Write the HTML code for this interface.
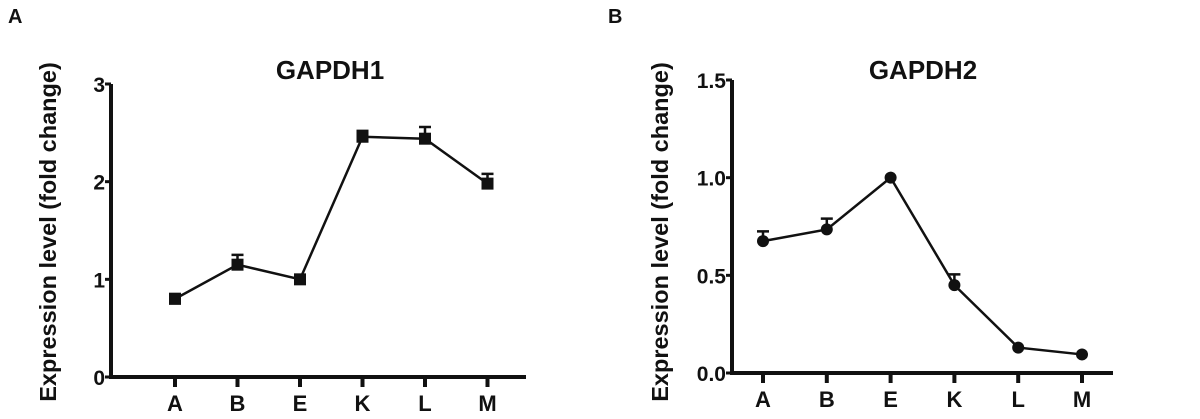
<!DOCTYPE html>
<html><head><meta charset="utf-8"><style>
body{margin:0;background:#fff;width:1200px;height:414px;overflow:hidden}
svg text{font-family:"Liberation Sans",Arial,sans-serif;font-weight:bold;fill:#111}
</style></head><body>
<svg id="chart" width="1200" height="414" xmlns="http://www.w3.org/2000/svg"></svg>
<script>
const categories=["A","B","E","K","L","M"];
const gapdh1Values=[0.80,1.15,1.00,2.46,2.44,1.98];
const gapdh1Errors=[0.05,0.10,0,0.06,0.12,0.10];
const gapdh1Ticks=["0","1","2","3"];
const gapdh2Values=[0.675,0.735,1.00,0.45,0.13,0.095];
const gapdh2Errors=[0.05,0.055,0,0.055,0,0];
const gapdh2Ticks=["0.0","0.5","1.0","1.5"];
const NS="http://www.w3.org/2000/svg";
const svg=document.getElementById('chart');
function el(t,a,p){const e=document.createElementNS(NS,t);for(const k in a)e.setAttribute(k,a[k]);(p||svg).appendChild(e);return e;}
function panel(cfg){
  const g=el('g',{});
  
  
  const y=v=>cfg.y0-(v/cfg.max)*(cfg.y0-cfg.yTop);
  const x=i=>cfg.x0+i*cfg.dx;
  const lt=el('text',{x:cfg.letterX,y:23,'font-size':20},g);lt.textContent=cfg.letter;
  
  const t=el('text',{x:cfg.titleX,y:79,'font-size':26,'text-anchor':'middle'},g);t.textContent=cfg.title;
  
  const yl=el('text',{x:0,y:0,'font-size':23.5,'text-anchor':'middle',transform:`translate(${cfg.ylabX},232) rotate(-90)`},g);
  yl.textContent="Expression level (fold change)";
  
  const ax=el('path',{d:`M${cfg.axX} ${cfg.yTop}V${cfg.y0}H${cfg.xEnd}`,stroke:'#111','stroke-width':4,fill:'none'},g);
  
  cfg.ticks.forEach((lab,i)=>{
    const v=i*cfg.max/(cfg.ticks.length-1);
    el('line',{x1:cfg.axX-6,x2:cfg.axX,y1:y(v),y2:y(v),stroke:'#111','stroke-width':3},g);
    const tt=el('text',{x:cfg.axX-6,y:y(v)+8,'font-size':21,'text-anchor':'end'},g);tt.textContent=lab;
    
  });
  categories.forEach((c,i)=>{
    el('line',{x1:x(i),x2:x(i),y1:cfg.y0,y2:cfg.y0+10,stroke:'#111','stroke-width':4},g);
    const tt=el('text',{x:x(i),y:cfg.y0+34,'font-size':22,'text-anchor':'middle'},g);tt.textContent=c;
    
  });
  const ln=el('polyline',{points:cfg.values.map((v,i)=>x(i)+','+y(v)).join(' '),fill:'none',stroke:'#111','stroke-width':2.5},g);
  
  cfg.values.forEach((v,i)=>{
    const e=cfg.errors[i];
    if(e>0){
      const eb=el('path',{d:`M${x(i)} ${y(v)}V${y(v+e)}M${x(i)-6} ${y(v+e)}H${x(i)+6}`,stroke:'#111','stroke-width':2.5,fill:'none'},g);
      
    }
    let m;
    if(cfg.square) m=el('rect',{x:x(i)-6,y:y(v)-6,width:12,height:12,fill:'#111'},g);
    else m=el('circle',{cx:x(i),cy:y(v),r:6,fill:'#111'},g);
    
  });
}
panel({name:'gapdh1-panel',letter:'A',letterX:8,title:'GAPDH1',titleX:330,ylabX:56,axX:111,yTop:84,y0:377,xEnd:526,x0:175,dx:62.5,max:3,ticks:gapdh1Ticks,values:gapdh1Values,errors:gapdh1Errors,square:true});
panel({name:'gapdh2-panel',letter:'B',letterX:608,title:'GAPDH2',titleX:923,ylabX:668,axX:732,yTop:80,y0:373,xEnd:1113,x0:763,dx:63.8,max:1.5,ticks:gapdh2Ticks,values:gapdh2Values,errors:gapdh2Errors,square:false});
</script>
</body></html>
